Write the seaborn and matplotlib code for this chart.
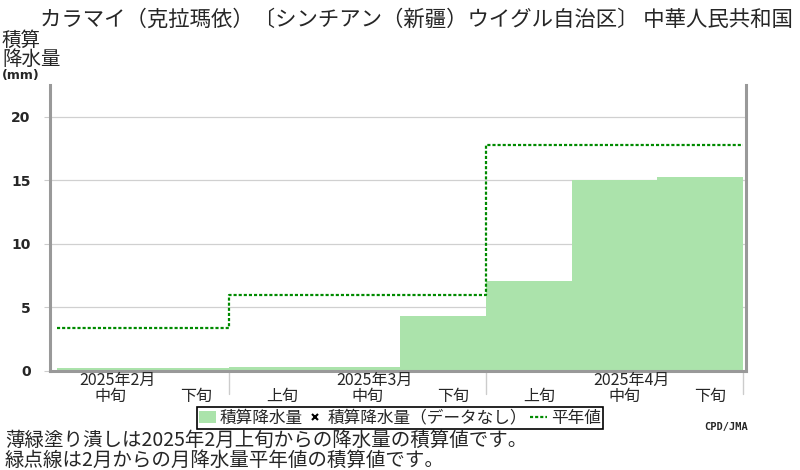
import matplotlib
matplotlib.use("Agg")
import matplotlib.pyplot as plt
import seaborn as sns
from matplotlib.patches import Patch
from matplotlib.lines import Line2D

# data
dekads = ["中旬", "下旬", "上旬", "中旬", "下旬", "上旬", "中旬", "下旬"]
months = ["2025年2月", "2025年3月", "2025年4月"]
month_mid = [0, 3, 6]          # dekad index of 中旬 in each month
month_end = [2, 5, 8]          # dekad boundary after each month
accum = [0.2, 0.2, 0.35, 0.35, 4.35, 7.05, 15.0, 15.25]
normal = [3.35, 3.35, 5.95, 5.95, 5.95, 17.75, 17.75, 17.75]
yticks = [0, 5, 10, 15, 20]

title = "カラマイ（克拉瑪依）〔シンチアン（新疆）ウイグル自治区〕 中華人民共和国"
note1 = "薄緑塗り潰しは2025年2月上旬からの降水量の積算値です。"
note2 = "緑点線は2月からの月降水量平年値の積算値です。"

fill_col = "#abe3ab"
line_col = "#008a00"
axis_col = "#999999"

sns.set_style("white")
plt.rcParams["font.family"] = ["Noto Sans CJK JP", "DejaVu Sans"]

fig = plt.figure(figsize=(8, 4.7), dpi=100)
ax = fig.add_axes([50 / 800, 99 / 470, 696 / 800, 286 / 470])

centers = [i + 0.5 for i in range(len(accum))]
sns.barplot(x=centers, y=accum, native_scale=True, width=1, color=fill_col,
            saturation=1, linewidth=0, ax=ax, zorder=2)

steps_x = list(range(len(normal) + 1))
steps_y = normal + [normal[-1]]
sns.lineplot(x=steps_x, y=steps_y, drawstyle="steps-post", color=line_col,
             lw=1.6, linestyle=(0, (1.4, 0.9)), ax=ax, zorder=3)

ax.set_xlim(-0.085, 8.035)
ax.set_ylim(0, 22.5)
ax.set_xticks([])
ax.set_yticks(yticks)
ax.set_yticklabels([str(v) for v in yticks], fontfamily="DejaVu Sans",
                   fontweight="bold", fontsize=10)
ax.tick_params(axis="y", length=4, width=0.8, color="#cccccc", pad=10, left=True)
ax.yaxis.grid(True, color="#d0d0d0", lw=0.9, zorder=0)
ax.xaxis.grid(False)
ax.set_xlabel("")
ax.set_ylabel("")

for side in ["left", "right", "bottom"]:
    ax.spines[side].set_color(axis_col)
    ax.spines[side].set_linewidth(2.2)
    ax.spines[side].set_visible(True)
ax.spines["top"].set_visible(False)

# x labels below the axis
tr = ax.get_xaxis_transform()
for i, d in enumerate(dekads):
    ax.text(i + 0.62, -0.088, d, transform=tr, ha="center", va="center", fontsize=11.5)
for m, i in zip(months, month_mid):
    ax.text(i + 0.7, -0.034, m, transform=tr, ha="center", va="center", fontsize=11.5)
for b in month_end:
    ax.axvline(b, ymin=-0.08, ymax=0, color="#cccccc", lw=1, clip_on=False)

# titles and notes
fig.text(40 / 800, 1 - 20 / 470, title, fontsize=15.4, ha="left", va="center")
fig.text(2 / 800, 1 - 50 / 470, "積算\n降水量", fontsize=14, ha="left", va="center",
         linespacing=0.85)
fig.text(2 / 800, 1 - 75 / 470, "(mm)", fontsize=9, fontweight="bold",
         fontfamily="DejaVu Sans", ha="left", va="center")
fig.text(5 / 800, 1 - 440 / 470, note1, fontsize=14, ha="left", va="center")
fig.text(5 / 800, 1 - 460 / 470, note2, fontsize=14, ha="left", va="center")
fig.text(748 / 800, 1 - 427 / 470, "CPD/JMA", fontsize=7.5, fontweight="bold",
         fontfamily="DejaVu Sans Mono", ha="right", va="center")

handles = [
    Patch(facecolor=fill_col, edgecolor="none"),
    Line2D([], [], marker="x", color="black", ls="none", markersize=5, mew=1.5),
    Line2D([], [], color=line_col, lw=1.6, ls=(0, (1.4, 0.9))),
]
labels = ["積算降水量", "積算降水量（データなし）", "平年値"]
leg = fig.legend(handles, labels, loc="center", bbox_to_anchor=(400 / 800, 1 - 418 / 470),
                 ncol=3, frameon=True, fancybox=False, framealpha=1, edgecolor="black",
                 fontsize=12, handlelength=1.0, handletextpad=0.25, columnspacing=0.2,
                 borderpad=0.15, borderaxespad=0)
leg.get_frame().set_linewidth(1.2)

fig.savefig("out.png", dpi=100)
